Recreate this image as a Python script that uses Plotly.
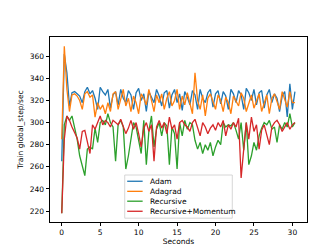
import plotly.graph_objects as go

seconds = [round(i / 3, 2) for i in range(92)]

adam = [265, 362, 345, 315, 327, 328, 326, 324, 318, 328, 332, 326, 329, 322, 312, 332,
        328, 325, 330, 313, 325, 328, 316, 330, 322, 318, 329, 325, 312, 327, 331, 320,
        326, 310, 328, 322, 318, 330, 324, 315, 327, 329, 313, 325, 330, 318, 326, 311,
        328, 323, 316, 329, 325, 312, 330, 322, 318, 327, 330, 314, 326, 329, 317, 328,
        324, 312, 330, 326, 318, 329, 325, 312, 331, 327, 320, 330, 316, 327, 329, 313,
        325, 330, 318, 326, 322, 310, 324, 328, 305, 335, 312, 328]

adagrad = [285, 369, 330, 310, 325, 326, 324, 320, 312, 326, 328, 323, 325, 305, 318, 312,
           316, 308, 318, 310, 326, 328, 312, 322, 330, 315, 322, 310, 324, 318, 308, 326,
           322, 316, 330, 320, 310, 325, 318, 326, 312, 322, 328, 315, 320, 330, 312, 324,
           316, 327, 318, 308, 345, 320, 312, 325, 306, 322, 326, 318, 312, 325, 320, 310,
           323, 318, 308, 324, 320, 315, 327, 322, 310, 318, 325, 313, 320, 326, 310, 318,
           325, 308, 322, 326, 318, 312, 328, 320, 314, 328, 318, 318]

recursive = [218, 298, 306, 302, 306, 296, 285, 270, 260, 252, 276, 278, 276, 295, 282, 300,
             302, 298, 308, 300, 296, 265, 298, 302, 296, 258, 270, 285, 300, 296, 282, 272,
             302, 262, 292, 306, 278, 294, 300, 288, 300, 297, 262, 296, 290, 258, 300, 288,
             302, 294, 300, 298, 284, 276, 282, 272, 280, 275, 282, 270, 278, 284, 280, 300,
             296, 298, 297, 300, 293, 285, 300, 275, 300, 262, 270, 282, 275, 288, 295, 300,
             298, 302, 294, 296, 282, 298, 294, 300, 296, 308, 296, 300]

recursive_momentum = [218, 285, 306, 302, 296, 290, 286, 276, 292, 293, 282, 272, 298, 294, 300, 306,
                      298, 302, 300, 296, 302, 300, 298, 303, 296, 290, 295, 302, 294, 300, 290, 278,
                      295, 300, 292, 298, 265, 296, 302, 295, 300, 290, 305, 294, 298, 285, 300, 302,
                      298, 296, 292, 300, 303, 296, 288, 300, 296, 290, 295, 298, 293, 300, 296, 302,
                      288, 298, 294, 300, 296, 304, 250, 276, 300, 285, 305, 292, 298, 276, 293, 298,
                      288, 280, 296, 300, 302, 298, 292, 296, 300, 294, 298, 300]

series_names = ["Adam", "Adagrad", "Recursive", "Recursive+Momentum"]
series_values = [adam, adagrad, recursive, recursive_momentum]
colors = ["#1f77b4", "#ff7f0e", "#2ca02c", "#d62728"]

x_ticks = [0, 5, 10, 15, 20, 25, 30]
y_ticks = [220, 240, 260, 280, 300, 320, 340, 360]

W, H = 332, 249
ML, MR, MT, MB = 41, 33, 29, 27
PW, PH = W - ML - MR, H - MT - MB


def px(xp):
    return (xp - ML) / PW


def py(yp):
    return (H - MB - yp) / PH


fig = go.Figure()
for name, vals, c in zip(series_names, series_values, colors):
    fig.add_trace(go.Scatter(x=seconds, y=vals, mode="lines", name=name,
                             line=dict(color=c, width=1.3), showlegend=False))

font = dict(family="DejaVu Sans", size=7.5, color="#000000")
axis_common = dict(showgrid=False, zeroline=False, showline=True, linecolor="#000000",
                   linewidth=0.8, mirror=True, ticks="outside", ticklen=3.5,
                   tickwidth=0.8, tickcolor="#000000", tickfont=font)

# legend drawn manually (matplotlib-style compact legend)
shapes = [dict(type="rect", xref="paper", yref="paper",
               x0=px(116), x1=px(224), y0=py(218), y1=py(173),
               line=dict(color="#cccccc", width=0.8),
               fillcolor="rgba(255,255,255,0.8)", layer="above")]
annotations = []
entry_y = [179.5, 190, 200.3, 210.8]
for name, c, ey in zip(series_names, colors, entry_y):
    shapes.append(dict(type="line", xref="paper", yref="paper",
                       x0=px(118.5), x1=px(134), y0=py(ey), y1=py(ey),
                       line=dict(color=c, width=1.3), layer="above"))
    annotations.append(dict(text=name, xref="paper", yref="paper",
                            x=px(139), y=py(ey), xanchor="left", yanchor="middle",
                            showarrow=False, font=font))

fig.update_layout(
    width=W, height=H,
    margin=dict(l=ML, r=MR, t=MT, b=MB),
    paper_bgcolor="white", plot_bgcolor="white",
    font=font,
    xaxis=dict(range=[-1.53, 31.9], tickvals=x_ticks,
               title=dict(text="Seconds", font=font, standoff=2), **axis_common),
    yaxis=dict(range=[210.1, 377.4], tickvals=y_ticks,
               title=dict(text="Train global_step/sec", font=font, standoff=5), **axis_common),
    shapes=shapes, annotations=annotations,
    showlegend=False,
)

fig.write_html("out.html")
